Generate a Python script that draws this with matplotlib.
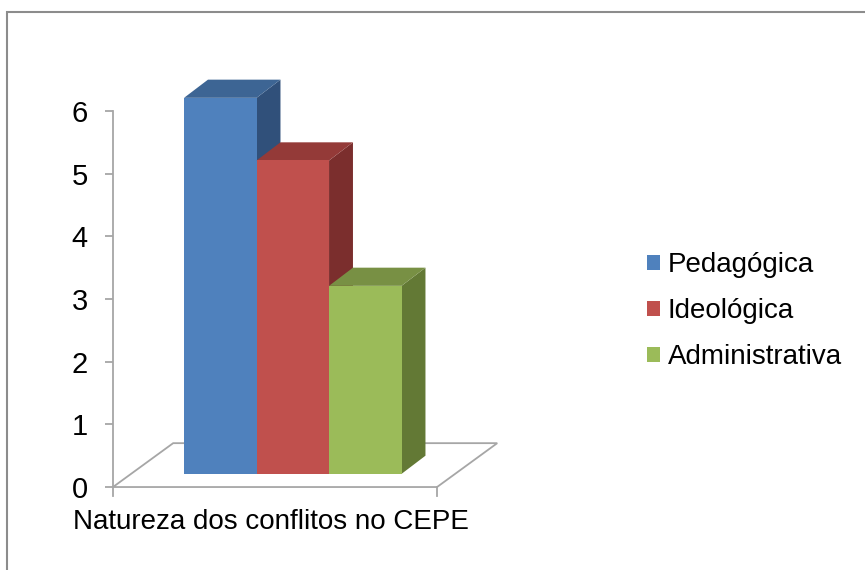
import numpy as np
import matplotlib
matplotlib.use("Agg")
import matplotlib.pyplot as plt
from matplotlib.patches import Polygon, Rectangle

plt.rcParams['font.family'] = ['Liberation Sans', 'DejaVu Sans']

# data
categories = ['Pedagógica', 'Ideológica', 'Administrativa']
values = [6, 5, 3]
xlabel = 'Natureza dos conflitos no CEPE'
yticks = [0, 1, 2, 3, 4, 5, 6]

front_colors = ['#4F81BD', '#C0504D', '#9BBB59']
top_colors = ['#3D6594', '#943A38', '#789044']
side_colors = ['#30507A', '#7B2E2D', '#637935']

# fake 3d geometry (data units)
bar_dx, bar_dy = 0.33, 0.29      # depth of one bar
floor_dx, floor_dy = 0.83, 0.70  # depth of the floor
shift_dy = 0.21                  # bars sit this far back on the floor
floor_left, floor_right = -1.48, 2.99

fig = plt.figure(figsize=(8.65, 5.70), dpi=100)
ax = fig.add_axes([113 / 865, 70 / 570, 407 / 865, 430 / 570])
ax.set_xlim(floor_left, 4.134)
ax.set_ylim(-0.207, 6.654)

# floor
floor = Polygon([(floor_left, 0), (floor_right, 0),
                 (floor_right + floor_dx, floor_dy), (floor_left + floor_dx, floor_dy)],
                closed=True, facecolor='white', edgecolor='#A6A6A6', lw=1.3, zorder=1)
ax.add_patch(floor)
for xx in (floor_left, floor_right):
    ax.plot([xx, xx], [0, -0.14], color='#A6A6A6', lw=1.3, clip_on=False, zorder=1)

x = np.arange(len(values))
handles = []
for i in range(len(values)):
    v = values[i]
    xl = x[i] - 0.5
    xr = x[i] + 0.5
    b = shift_dy
    t = shift_dy + v
    # side
    ax.add_patch(Polygon([(xr, b), (xr + bar_dx, b + bar_dy), (xr + bar_dx, t + bar_dy), (xr, t)],
                         closed=True, facecolor=side_colors[i], edgecolor='none', zorder=2 + i))
    # top
    ax.add_patch(Polygon([(xl, t), (xr, t), (xr + bar_dx, t + bar_dy), (xl + bar_dx, t + bar_dy)],
                         closed=True, facecolor=top_colors[i], edgecolor='none', zorder=2 + i))
    h = ax.bar(x[i], v, width=1.0, bottom=b, color=front_colors[i], zorder=2 + i,
               label=categories[i])
    handles.append(h)

for s in ['top', 'right', 'bottom']:
    ax.spines[s].set_visible(False)
ax.spines['left'].set_color('#A6A6A6')
ax.spines['left'].set_linewidth(1.3)
ax.spines['left'].set_bounds(0, 6)
ax.set_yticks(yticks)
ax.set_xticks([])
ax.tick_params(axis='y', length=6, width=1.3, color='#A6A6A6', pad=12, labelsize=21)

fig.text(271 / 865, 1 - 522 / 570, xlabel, ha='center', va='center', fontsize=20)

ax.legend(handles=handles, loc='center left', bbox_to_anchor=(647 / 865, 1 - 311 / 570),
          bbox_transform=fig.transFigure, frameon=False, fontsize=20,
          handlelength=0.45, handleheight=0.45, handletextpad=0.29,
          labelspacing=0.72, borderpad=0, borderaxespad=0)

# outer chart border
fig.add_artist(Rectangle((7 / 865, -0.1), 1.2, 1 - 12 / 570 + 0.1, transform=fig.transFigure,
                         fill=False, edgecolor='#8C8C8C', lw=1.5))

fig.savefig('out.png', dpi=100)
